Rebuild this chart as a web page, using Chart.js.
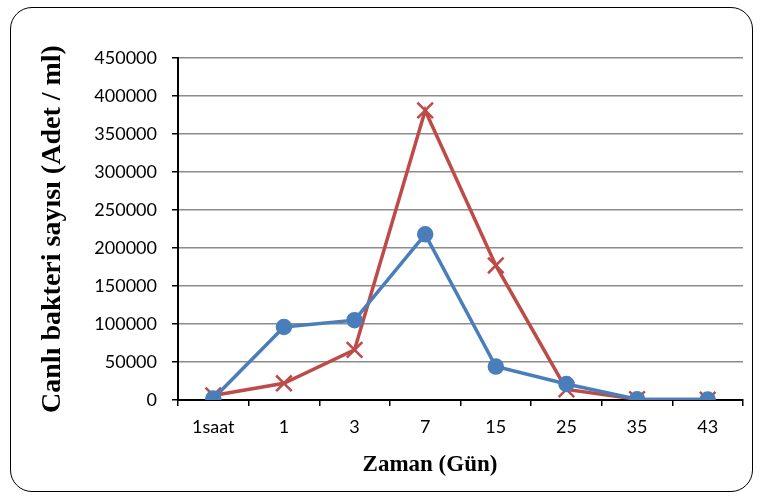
<!DOCTYPE html>
<html>
<head>
<meta charset="utf-8">
<script src="https://cdn.jsdelivr.net/npm/chart.js@4/dist/chart.umd.min.js"></script>
<style>
  body { margin: 0; background: #fff; }
  #wrap { position: relative; width: 760px; height: 497px; }
  #frame { position: absolute; left: 10px; top: 7px; width: 741px; height: 483px;
           border: 1.5px solid #000; border-radius: 22px; pointer-events: none; }
  canvas { position: absolute; left: 0; top: 0; }
</style>
</head>
<body>
<div id="wrap">
  <canvas id="myLineChart" width="760" height="497"></canvas>
  <div id="frame"></div>
</div>
<script>
// -- Line Chart: bacteria counts over time
var gunler = ["1saat", "1", "3", "7", "15", "25", "35", "43"];
var mavi = [2000, 96000, 105000, 218000, 44000, 21000, 1000, 500];
var kirmizi = [6000, 22000, 66000, 381000, 177000, 14000, 1000, 500];
var yTicks = [0, 50000, 100000, 150000, 200000, 250000, 300000, 350000, 400000, 450000];
var xBaslik = 'Zaman (Gün)';

var ctx = document.getElementById("myLineChart");
var padLeft = 20;

// x axis title sits a bit left of the plot centre, like the original
var xTitlePlugin = {
  id: 'xTitle',
  afterDraw: function (chart) {
    var a = chart.chartArea;
    var c = chart.ctx;
    c.save();
    c.font = 'bold 23px "Liberation Serif"';
    c.fillStyle = '#000';
    c.textAlign = 'center';
    c.textBaseline = 'middle';
    c.fillText(xBaslik, a.left + (a.right - a.left) * 0.446, 465);
    c.restore();
  }
};

var myLineChart = new Chart(ctx, {
  type: 'line',
  data: {
    labels: gunler,
    datasets: [{
      data: mavi,
      borderColor: '#4a7ebb',
      backgroundColor: '#4a7ebb',
      borderWidth: 3.5,
      pointStyle: 'circle',
      pointRadius: 6.5,
      tension: 0
    }, {
      data: kirmizi,
      borderColor: '#be4b48',
      backgroundColor: '#be4b48',
      borderWidth: 3.5,
      pointStyle: 'crossRot',
      pointRadius: 11,
      pointBorderWidth: 2.5,
      tension: 0
    }]
  },
  plugins: [xTitlePlugin],
  options: {
    responsive: false,
    animation: false,
    events: [],
    layout: { padding: { left: padLeft, right: 17, top: 58, bottom: 0 } },
    plugins: { legend: { display: false }, tooltip: { enabled: false } },
    scales: {
      x: {
        offset: true,
        afterFit: function (s) { s.height = 97; },
        grid: { offset: true, drawOnChartArea: false, tickLength: 6, color: '#000', tickColor: '#000', lineWidth: 1.5 },
        border: { color: '#000', width: 2 },
        ticks: { color: '#000', font: { family: 'Lato', size: 18 }, padding: 10 }
      },
      y: {
        min: 0, max: 450000,
        afterFit: function (s) { s.width = 178 - padLeft; },
        afterBuildTicks: function (s) { s.ticks = yTicks.map(function (v) { return { value: v }; }); },
        ticks: { color: '#000', font: { family: 'Lato', size: 18 }, padding: 15,
                 callback: function (v) { return String(v); } },
        grid: { color: '#8c8c8c', lineWidth: 1.5, tickLength: 6, tickColor: '#000' },
        border: { color: '#000', width: 2 },
        title: { display: true, text: 'Canlı bakteri sayısı (Adet / ml)', color: '#000',
                 font: { family: 'Liberation Serif', size: 28, weight: 'bold' }, padding: { top: 16, bottom: 0 } }
      }
    }
  }
});
</script>
</body>
</html>
